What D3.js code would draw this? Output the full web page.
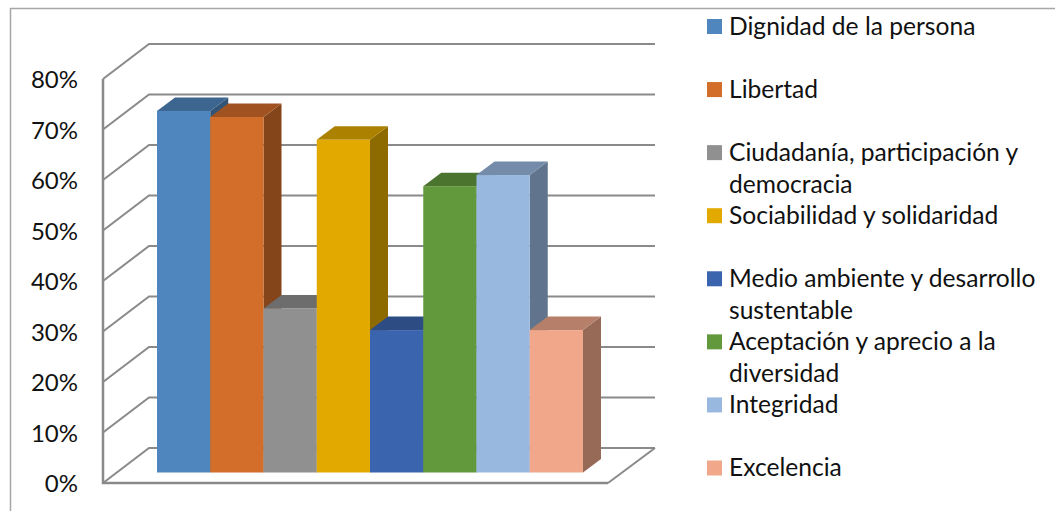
<!DOCTYPE html>
<html>
<head>
<meta charset="utf-8">
<script src="https://d3js.org/d3.v7.min.js"></script>
<style>
  html, body { margin: 0; padding: 0; background: #fff; overflow: hidden; }
  svg { display: block; }
  text { font-family: Lato, "Open Sans", sans-serif; fill: #111; }
  .tick text { font-size: 24px; }
  .legend text { font-size: 24.6px; }
</style>
</head>
<body>
<svg id="chart"></svg>
<script>
  // Values
  const categories = [
    ["Dignidad de la persona"],
    ["Libertad"],
    ["Ciudadanía, participación y", "democracia"],
    ["Sociabilidad y solidaridad"],
    ["Medio ambiente y desarrollo", "sustentable"],
    ["Aceptación y aprecio a la", "diversidad"],
    ["Integridad"],
    ["Excelencia"]
  ];
  const values = [71.6, 70.4, 32.5, 65.9, 28.2, 56.7, 58.9, 28.2];
  const colors = ["#4f86bd", "#d26d2a", "#909090", "#e2aa00", "#3a64ad", "#63993d", "#99b8e0", "#f0a78a"];
  const yTicks = [0, 10, 20, 30, 40, 50, 60, 70, 80];

  const width = 1055, height = 511;
  const gridColor = "#8a8a8a";

  const svg = d3.select("#chart").attr("width", width).attr("height", height);

  // Front plane scale, the back wall and the bars are the same scale shifted in depth
  const y = d3.scaleLinear().domain([0, 80]).range([483, 79]);
  const wall = { dx: 46, dy: -35 };
  const barPlane = { dx: 14.5, dy: -10.5 };
  const barDepth = { dx: 18, dy: -13.5 };
  const floorRight = 608;

  const x = d3.scaleBand().domain(d3.range(values.length)).range([157, 583]).paddingInner(0);

  // chart frame, only top and left show in the picture
  svg.append("path")
    .attr("d", `M10.5,${height}V8.5H${width}`)
    .attr("fill", "none")
    .attr("stroke", "#a6a6a6")
    .attr("stroke-width", 1.5);

  // Walls and floor
  const grid = svg.append("g")
    .attr("fill", "none")
    .attr("stroke", gridColor)
    .attr("stroke-width", 2);

  grid.selectAll(".wall")
    .data(yTicks)
    .enter().append("path")
    .attr("class", "wall")
    .attr("d", d => `M103,${y(d)}L${103 + wall.dx},${y(d) + wall.dy}H655`);

  grid.append("path")
    .attr("d", `M${floorRight},${y(0)}L655,${y(0) + wall.dy}`);

  // Bars, painted left to right so each one covers the side of the previous
  const bar = svg.append("g")
    .selectAll("g")
    .data(values)
    .enter().append("g");

  const shade = (c, k) => {
    const r = d3.rgb(c);
    return d3.rgb(r.r * k, r.g * k, r.b * k).formatHex();
  };

  bar.append("path") // side
    .attr("fill", (d, i) => shade(colors[i], 0.63))
    .attr("d", (d, i) => {
      const x1 = x(i) + x.bandwidth();
      const top = y(d) + barPlane.dy, bottom = y(0) + barPlane.dy;
      return `M${x1},${top}l${barDepth.dx},${barDepth.dy}V${bottom + barDepth.dy}L${x1},${bottom}Z`;
    });

  bar.append("path") // top
    .attr("fill", (d, i) => shade(colors[i], 0.76))
    .attr("d", (d, i) => {
      const top = y(d) + barPlane.dy;
      return `M${x(i)},${top}l${barDepth.dx},${barDepth.dy}h${x.bandwidth()}l${-barDepth.dx},${-barDepth.dy}Z`;
    });

  bar.append("rect") // front
    .attr("fill", (d, i) => colors[i])
    .attr("x", (d, i) => x(i))
    .attr("y", d => y(d) + barPlane.dy)
    .attr("width", x.bandwidth())
    .attr("height", d => y(0) - y(d));

  // Front edges of the axis and floor go over everything
  svg.append("path")
    .attr("d", `M103,${y(80)}V${y(0)}H${floorRight}`)
    .attr("fill", "none")
    .attr("stroke", gridColor)
    .attr("stroke-width", 2.5);

  const axis = d3.axisLeft(y)
    .tickValues(yTicks)
    .tickFormat(d => d + "%")
    .tickSize(0)
    .tickPadding(25);

  const axisG = svg.append("g")
    .attr("transform", "translate(103,0)")
    .call(axis);
  axisG.select(".domain").remove();
  axisG.selectAll("text").attr("dy", "0.36em");
  axisG.attr("font-family", null).attr("font-size", null);

  // Legend
  const legendY = d3.scaleLinear().domain([0, 7]).range([26.5, 468]);
  const legend = svg.append("g")
    .attr("class", "legend")
    .selectAll("g")
    .data(categories)
    .enter().append("g")
    .attr("transform", (d, i) => `translate(707,${legendY(i)})`);

  legend.append("rect")
    .attr("y", -7.5)
    .attr("width", 15)
    .attr("height", 15)
    .attr("fill", (d, i) => colors[i]);

  legend.selectAll("text")
    .data(d => d)
    .enter().append("text")
    .attr("x", 22)
    .attr("y", (d, i) => i * 32 + 8)
    .text(d => d);
</script>
</body>
</html>
